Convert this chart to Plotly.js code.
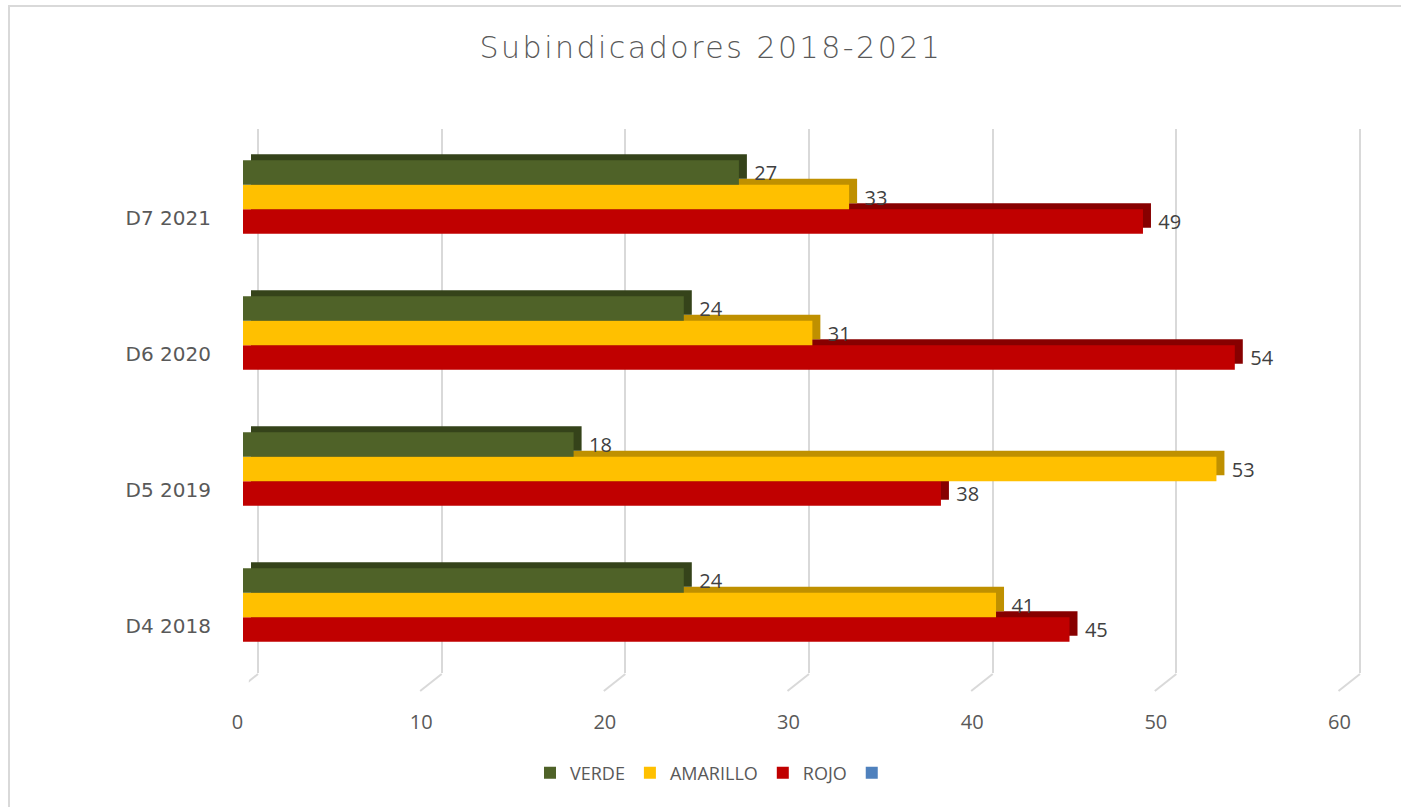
<!DOCTYPE html>
<html>
<head>
<meta charset="utf-8">
<script src="https://cdn.plot.ly/plotly-3.0.1.min.js"></script>
<style>
  html, body { margin: 0; padding: 0; background: #ffffff; overflow: hidden; }
  #chart { width: 1401px; height: 807px; }
  #frame { position: absolute; left: 8px; top: 5px; width: 1500px; height: 900px;
           border-left: 2px solid #d9d9d9; border-top: 2px solid #d9d9d9; pointer-events: none; }
  #chart .gtitle { letter-spacing: 2.5px; }
</style>
</head>
<body>
<div id="chart"></div>
<div id="frame"></div>
<script>
// ---- data ----
const categories = ['D4 2018', 'D5 2019', 'D6 2020', 'D7 2021'];
const verde = [24, 18, 24, 27];
const amarillo = [41, 53, 31, 33];
const rojo = [45, 38, 54, 49];
const xTicks = [0, 10, 20, 30, 40, 50, 60];

// ---- styles ----
const W = 1401, H = 807;
const ppu = 1102 / 60;            // pixels per unit
const frontCol = { VERDE: '#4f6228', AMARILLO: '#ffc000', ROJO: '#c00000' };
const sideCol = { VERDE: '#35431a', AMARILLO: '#bf9000', ROJO: '#870000' };
const rank = { VERDE: 1, AMARILLO: 2, ROJO: 3 };
const values = { VERDE: verde, AMARILLO: amarillo, ROJO: rojo };
const order = ['ROJO', 'AMARILLO', 'VERDE'];   // bottom-to-top inside a group
const pad = '\u00a0\u00a0\u200a';

const traces = [];
// empty fourth series (blue legend entry) on the grid subplot
traces.push({
  type: 'bar', orientation: 'h', x: [null], y: [categories[0]], name: ' ',
  xaxis: 'x', yaxis: 'y', legendrank: 4, marker: { color: '#4f81bd' }
});
// depth faces (behind)
order.forEach(n => {
  traces.push({
    type: 'bar', orientation: 'h', x: values[n], y: categories,
    xaxis: 'x2', yaxis: 'y2', marker: { color: sideCol[n], line: { width: 0 } },
    showlegend: false, hoverinfo: 'skip'
  });
});
// front faces
order.forEach(n => {
  traces.push({
    type: 'bar', orientation: 'h', x: values[n], y: categories, name: n,
    xaxis: 'x3', yaxis: 'y3', legendrank: rank[n],
    marker: { color: frontCol[n], line: { width: 0 } },
    texttemplate: pad + '%{x}',
    textposition: 'outside', constraintext: 'none', cliponaxis: false,
    textfont: { family: 'Open Sans, sans-serif', size: 20, color: '#404040' }
  });
});
// invisible holder for the value-label axis
traces.push({
  type: 'scatter', mode: 'markers', x: [null], y: [categories[0]],
  xaxis: 'x4', yaxis: 'y3', showlegend: false, hoverinfo: 'skip'
});

const shapes = xTicks.map(v => ({
  type: 'line', layer: 'below',
  xref: 'x', xsizemode: 'pixel', xanchor: v, x0: 0, x1: -21.5,
  yref: 'paper', ysizemode: 'pixel', yanchor: 133 / H, y0: 0, y1: -17,
  line: { color: '#d9d9d9', width: 2 }
}));

const catAxis = (dom, anchor) => ({
  domain: dom, anchor: anchor, type: 'category', categoryorder: 'array',
  categoryarray: categories, range: [-0.5, 3.5],
  showgrid: false, zeroline: false, showline: false, ticks: '', showticklabels: false
});
const valAxis = (left, anchor) => ({
  domain: [left / W, (left + 60 * ppu) / W], range: [0, 60], anchor: anchor,
  showgrid: false, zeroline: false, showline: false, ticks: '', showticklabels: false
});

const layout = {
  width: W, height: H,
  margin: { l: 0, r: 0, t: 0, b: 0, pad: 0 },
  paper_bgcolor: '#ffffff', plot_bgcolor: 'rgba(0,0,0,0)',
  showlegend: true,
  hovermode: false,
  barmode: 'group', bargap: 0.46, bargroupgap: 0,
  title: {
    text: 'Subindicadores 2018-2021',
    x: 711 / W, xanchor: 'center', xref: 'paper',
    y: (H - 47) / H, yanchor: 'middle', yref: 'paper',
    font: { family: 'DejaVu Sans ExtraLight, DejaVu Sans, sans-serif', size: 30, color: '#595959', weight: 300 }
  },
  // grid subplot
  xaxis: {
    domain: [(258 - 0.5 * ppu) / W, (258 + 60.5 * ppu) / W], range: [-0.5, 60.5], anchor: 'y',
    tickvals: xTicks, showticklabels: false, ticks: '',
    showgrid: true, gridcolor: '#d9d9d9', gridwidth: 2, zeroline: false, showline: false
  },
  yaxis: catAxis([134 / H, 678 / H], 'x'),
  // depth subplot
  xaxis2: valAxis(251, 'y2'),
  yaxis2: catAxis([140 / H, 684 / H], 'x2'),
  // front subplot
  xaxis3: valAxis(243, 'y3'),
  yaxis3: Object.assign(catAxis([134 / H, 678 / H], 'x3'), {
    showticklabels: true, ticklabelshift: 21, ticklabelstandoff: 31,
    tickfont: { family: 'DejaVu Sans, sans-serif', size: 20, color: '#595959' }
  }),
  // value tick labels
  xaxis4: Object.assign(valAxis(237.5, 'y3'), {
    showticklabels: true, tickvals: xTicks, ticktext: xTicks.map(String),
    ticklabelstandoff: 35,
    tickfont: { family: 'Open Sans, sans-serif', size: 20, color: '#595959' }
  }),
  legend: {
    orientation: 'h', x: 716 / W, xanchor: 'center', y: 34 / H, yanchor: 'middle',
    font: { family: 'Open Sans, sans-serif', size: 18, color: '#595959' },
    itemwidth: 30, traceorder: 'normal'
  },
  shapes: shapes
};

Plotly.newPlot('chart', traces, layout, { displayModeBar: false, staticPlot: true });
</script>
</body>
</html>
